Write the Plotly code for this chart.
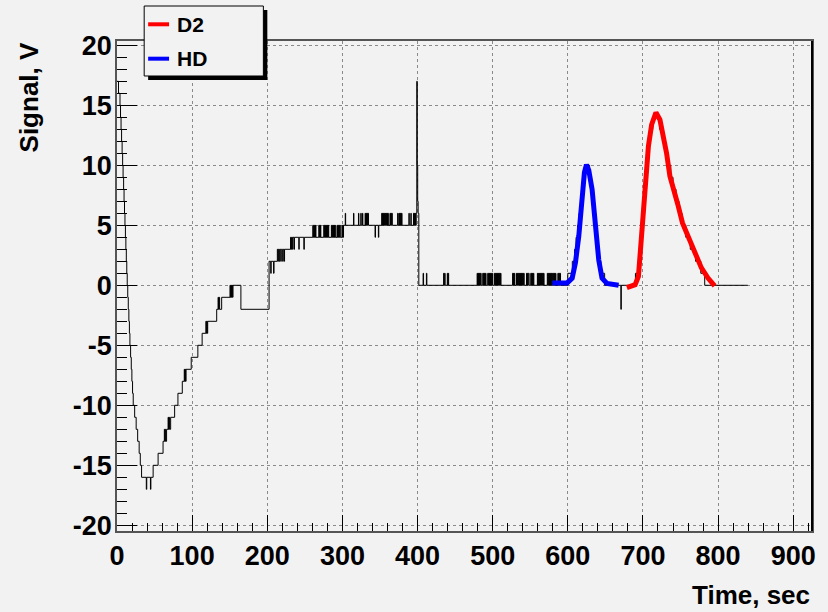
import plotly.graph_objects as go

# ---------------- data ----------------
# black raw signal: (time, value) pairs, drawn as a step line (hv)
black_descent = [(0,17),(2,16),(4,15),(4.7,14),(5.4,13),(6.1,12),(6.8,11),(7.5,10),(8.1,9),(8.8,8),
                 (9.4,7),(10,6),(10.6,5),(11.2,4),(11.8,3),(12.4,2),(13,1),(13.6,0),(14.3,-1),(15,-2),
                 (15.8,-3),(16.5,-4),(17.2,-5),(18.1,-6),(19,-7),(19.8,-8),(20.7,-9),(21.6,-10),
                 (23.5,-11),(25.5,-12),(27.5,-13),(29.5,-14),(31,-15),(32.7,-16),
                 (39,-17),(39.6,-16),(44.5,-17),(45.1,-16)]
black_rise = [(48.1,-15),(54.7,-14),(61.3,-13),(63,-12),(63.6,-13),(64.3,-12),(64.9,-13),(66,-12),
              (68,-11),(68.6,-12),(69.2,-11),(69.8,-12),(71.4,-11),(76.7,-10),(81.1,-9),(86.9,-8),
              (89.5,-7),(90.1,-8),(90.7,-7),(91.3,-8),(91.9,-7),(98.8,-6),(107.6,-5),(113.3,-4),
              (118.3,-3),(118.9,-4),(119.5,-3),(120.1,-4),(120.7,-3),(132.7,-2),(134.5,-1),(135.1,-2),
              (136,-1),(136.6,-2),(139.3,-1),(150.4,0),(151,-1),(151.6,0),(152.4,-1),(153,0),
              (153.8,-1),(154.4,0),(164.9,-2)]
black_climb = [(202.4,2),(204.6,1),(205.2,2),(208.4,1),(209,2),(213.4,3),(214.2,2),(214.8,3),(216,2),
               (216.7,3),(218,2),(218.6,3),(220.5,2),(221.2,3),(222.5,2),(223,3),(231,4),(231.6,3),
               (232.2,4),(233.4,3),(234,4),(235.5,3),(236.2,4),(242,3),(242.5,4),(248.7,3),(249.3,4),
               (260.6,5),(261.2,4),(261.8,5),(262.4,4),(263,5),(263.6,4),(264.2,5),(264.8,4),
               (268.6,5),(269.2,4),(269.8,5),(270.4,4),(270.8,5),(271.3,4),
               (275.2,5),(275.8,4),(276.4,5),(277,4),(277.6,5),(278.2,4),(278.8,5),(279.4,4),(280,5),
               (280.6,4),(281.2,5),(281.8,4),
               (285.3,5),(285.9,4),(286.5,5),(287.1,4),(287.7,5),(288.3,4),(288.9,5),(289.5,4),(290.1,5),
               (290.6,4),(292.8,5),(293.4,4),(294,5),(294.6,4),(295.2,5),(295.8,4),(296.4,5),(297.2,4),
               (299.4,5),(300,4),(300.6,5),(301.2,4),(301.5,5)]
black_plateau = [(303.8,6),(304.3,5),(314.8,6),(315.3,5),(321.4,6),(321.9,5),(324.5,6),(325,5),(326.7,6),
                 (327.2,5),(330.2,6),(330.8,5),(331.4,6),(332,5),(332.6,6),(333.2,5),(333.8,6),(334.7,5),
                 (343.5,4),(344,5),(347.9,4),(348.4,5),(352.3,6),(352.9,5),(353.5,6),(354.1,5),(354.7,6),
                 (355.3,5),(355.9,6),(356.5,5),(357.1,6),(357.7,5),(358.3,6),(358.9,5),(359.5,6),(360.1,5),
                 (360.6,6),(361.1,5),(363.3,6),(363.9,5),(364.5,6),(365.1,5),(365.7,6),(366.4,5),(373.5,6),
                 (374,5),(375.2,6),(375.8,5),(376.4,6),(377,5),(377.6,6),(378.2,5),(378.8,6),(379.3,5),
                 (388.5,6),(389,5),(391.1,6),(391.6,5),(394.6,6),(395.2,5),(395.8,6),(396.4,5),(397,6),
                 (397.5,5),(398.2,6),(399,17),(399.6,10),(400.2,7),(400.8,6),(401.7,0)]
black_baseline = [(407.4,1),(408,0),(411.8,1),(412.4,0),
                  (434.7,1),(435.3,0),(436.1,1),(436.7,0),(439.6,1),(440.2,0),(440.8,1),(441.4,0),
                  (479.3,1),(479.9,0),(480.5,1),(481.1,0),(481.7,1),(482.3,0),(482.9,1),(483.5,0),(484.1,1),(484.6,0),
                  (486.8,1),(487.4,0),(488,1),(488.6,0),(489.2,1),(489.8,0),(490.4,1),(491.2,0),
                  (493.4,1),(494,0),(494.6,1),(495.2,0),(495.8,1),(496.4,0),(497,1),(497.6,0),(498.2,1),(498.8,0),
                  (499.4,1),(500,0),
                  (502.2,1),(502.8,0),(503.4,1),(504,0),(504.6,1),(505.2,0),(505.8,1),(506.4,0),(507,1),(507.6,0),
                  (508.2,1),(508.8,0),(509.4,1),(510,0),(510.6,1),(511,0),
                  (526.5,1),(527.1,0),(527.7,1),(528.3,0),(528.9,1),(529.5,0),
                  (531.7,1),(532.3,0),(532.9,1),(533.5,0),(534.1,1),(534.7,0),(535.3,1),(535.9,0),(536.5,1),(537.1,0),
                  (537.7,1),(538.3,0),(538.9,1),(539.5,0),(540.1,1),(540.7,0),(541.3,1),(541.9,0),
                  (545,1),(545.6,0),(546.2,1),(546.8,0),(547.4,1),(548.5,0),
                  (550.7,1),(551.3,0),(551.9,1),(552.5,0),(553.1,1),(553.6,0),(554.2,1),(554.8,0),
                  (559.5,1),(560.1,0),(560.7,1),(561.3,0),(561.9,1),(562.5,0),(563.1,1),(563.7,0),(564.3,1),(564.9,0),
                  (565.5,1),(566.1,0),(566.7,1),(567.3,0),(567.9,1),(568.3,0),
                  (572.7,1),(573.3,0),(573.9,1),(574.5,0),(575.1,1),(575.7,0),(576.3,1),(576.9,0),(577.5,1),(578.1,0),
                  (578.7,1),(579.3,0),(580,1),(580.6,0),(581.2,1),(581.8,0),(582.4,1),(583,0),(583.7,1),(584.2,0),
                  (586.8,1),(587.4,0),(588,1),(588.6,0),(589.2,1),(590.3,0)]
black_peaks = [(600,1),(606,2),(609,3),(611,4),(613,5),(615,6),(617,7),(619,8),(621,9),(623,10),(629,9),
               (631,8),(633,7),(634.5,6),(636,5),(637.5,4),(639,3),(641,2),(644,1),(649,0),(670.6,-2),
               (671.2,0),(690,1),(694,2),(696,3),(697.5,4),(698.5,5),(699.5,6),(700.5,7),(701.5,8),
               (702.5,9),(704,10),(705.5,11),(708,12),(710,13),(713,14),(722,13),(726,12),(730,11),
               (734,10),(737,9),(740,8),(744,7),(748,6),(752,5),(757,4),(763,3),(770,2),(777,1),
               (782.2,0),(839.5,0)]

# D2 and HD peaks
d2_t = [678.6, 689.6, 694.0, 698.4, 702.8, 707.3, 711.6, 717.3, 722.6, 727.1, 731.5, 735.9,
        741.2, 747.0, 752.6, 757.9, 764.6, 771.2, 777.8, 786.6, 795.4]
d2_v = [-0.2, 0.05, 0.75, 4.4, 8.5, 11.6, 13.4, 14.4, 13.8, 12.4, 11.0, 9.1,
        8.0, 6.6, 5.2, 4.4, 3.25, 2.3, 1.45, 0.6, -0.05]
hd_t = [579.4, 599.2, 605.8, 610.2, 614.6, 619.0, 622.1, 624.8, 627.9, 632.3, 636.7, 641.2,
        645.5, 652.1, 667.6]
hd_v = [0.2, 0.2, 0.6, 1.9, 4.1, 7.4, 9.4, 10.05, 9.6, 8.0, 4.9, 2.1, 0.6, 0.15, 0.0]

x_ticks = [0, 100, 200, 300, 400, 500, 600, 700, 800, 900]
y_ticks = [-20, -15, -10, -5, 0, 5, 10, 15, 20]

# ---------------- figure ----------------
black = black_descent + black_rise + black_climb + black_plateau + black_baseline + black_peaks
bt = [p[0] for p in black]
bv = [p[1] for p in black]

BG = "#f2f2f2"
FONT = "Liberation Sans, Arial, sans-serif"

fig = go.Figure()
fig.add_trace(go.Scatter(x=bt, y=bv, mode="lines", line=dict(color="black", width=1, shape="hv"),
                         name="signal", showlegend=False))
fig.add_trace(go.Scatter(x=hd_t, y=hd_v, mode="lines", line=dict(color="#0000ff", width=5),
                         name="HD", showlegend=False))
fig.add_trace(go.Scatter(x=d2_t, y=d2_v, mode="lines", line=dict(color="#ff0000", width=5),
                         name="D2", showlegend=False))

tickfont = dict(family=FONT, size=27, color="black", weight="bold")
fig.update_xaxes(range=[0, 925], tickvals=x_ticks, ticktext=[str(v) for v in x_ticks],
                 ticks="inside", ticklen=16, tickcolor="black", tickwidth=1,
                 minor=dict(dtick=20, tick0=0, ticks="inside", ticklen=8, tickcolor="black", showgrid=False),
                 showgrid=True, gridcolor="#8a8a8a", griddash="dot", gridwidth=1,
                 showline=True, linecolor="#555555", linewidth=1.5, mirror=True,
                 zeroline=False, tickfont=tickfont)
fig.update_yaxes(range=[-20.475, 20.36], tickvals=y_ticks, ticktext=[str(v) for v in y_ticks],
                 ticks="inside", ticklen=20, tickcolor="black", tickwidth=1,
                 minor=dict(dtick=1, tick0=0, ticks="inside", ticklen=10, tickcolor="black", showgrid=False),
                 showgrid=True, gridcolor="#8a8a8a", griddash="dot", gridwidth=1,
                 showline=True, linecolor="#555555", linewidth=1.5, mirror=True,
                 zeroline=False, tickfont=tickfont, ticklabelstandoff=-2)

# legend box (ROOT style with shadow)
shapes = [
    dict(type="rect", xref="paper", yref="paper", x0=0.0448, x1=0.2163, y0=0.9204, y1=1.0633,
         fillcolor="black", line=dict(width=0), layer="above"),
    dict(type="rect", xref="paper", yref="paper", x0=0.0391, x1=0.2106, y0=0.9286, y1=1.0714,
         fillcolor=BG, line=dict(color="black", width=1), layer="above"),
    dict(type="line", xref="paper", yref="paper", x0=0.0448, x1=0.0749, y0=1.0341, y1=1.0341,
         line=dict(color="#ff0000", width=4), layer="above"),
    dict(type="line", xref="paper", yref="paper", x0=0.0448, x1=0.0749, y0=0.9639, y1=0.9639,
         line=dict(color="#0000ff", width=4), layer="above"),
    dict(type="line", xref="paper", yref="paper", x0=1, x1=1, y0=0, y1=1,
         line=dict(color="black", width=2), layer="above"),
]
legfont = dict(family=FONT, size=21, color="black", weight="bold")
titlefont = dict(family=FONT, size=26, color="black", weight="bold")
annotations = [
    dict(text="D2", xref="paper", yref="paper", x=0.0831, y=1.0337, xanchor="left", yanchor="middle",
         showarrow=False, font=legfont),
    dict(text="HD", xref="paper", yref="paper", x=0.0831, y=0.9643, xanchor="left", yanchor="middle",
         showarrow=False, font=legfont),
    dict(text="Signal, V", xref="paper", yref="paper", x=-0.126, y=1.002, xanchor="center", yanchor="top",
         textangle=-90, showarrow=False, font=titlefont),
    dict(text="Time, sec", xref="paper", yref="paper", x=1.0, y=-0.1306, xanchor="right", yanchor="middle",
         showarrow=False, font=titlefont),
]

fig.update_layout(width=828, height=612, margin=dict(l=117, r=13, t=41, b=81, pad=0),
                  paper_bgcolor=BG, plot_bgcolor=BG, showlegend=False,
                  shapes=shapes, annotations=annotations)

fig.write_html("out.html")
